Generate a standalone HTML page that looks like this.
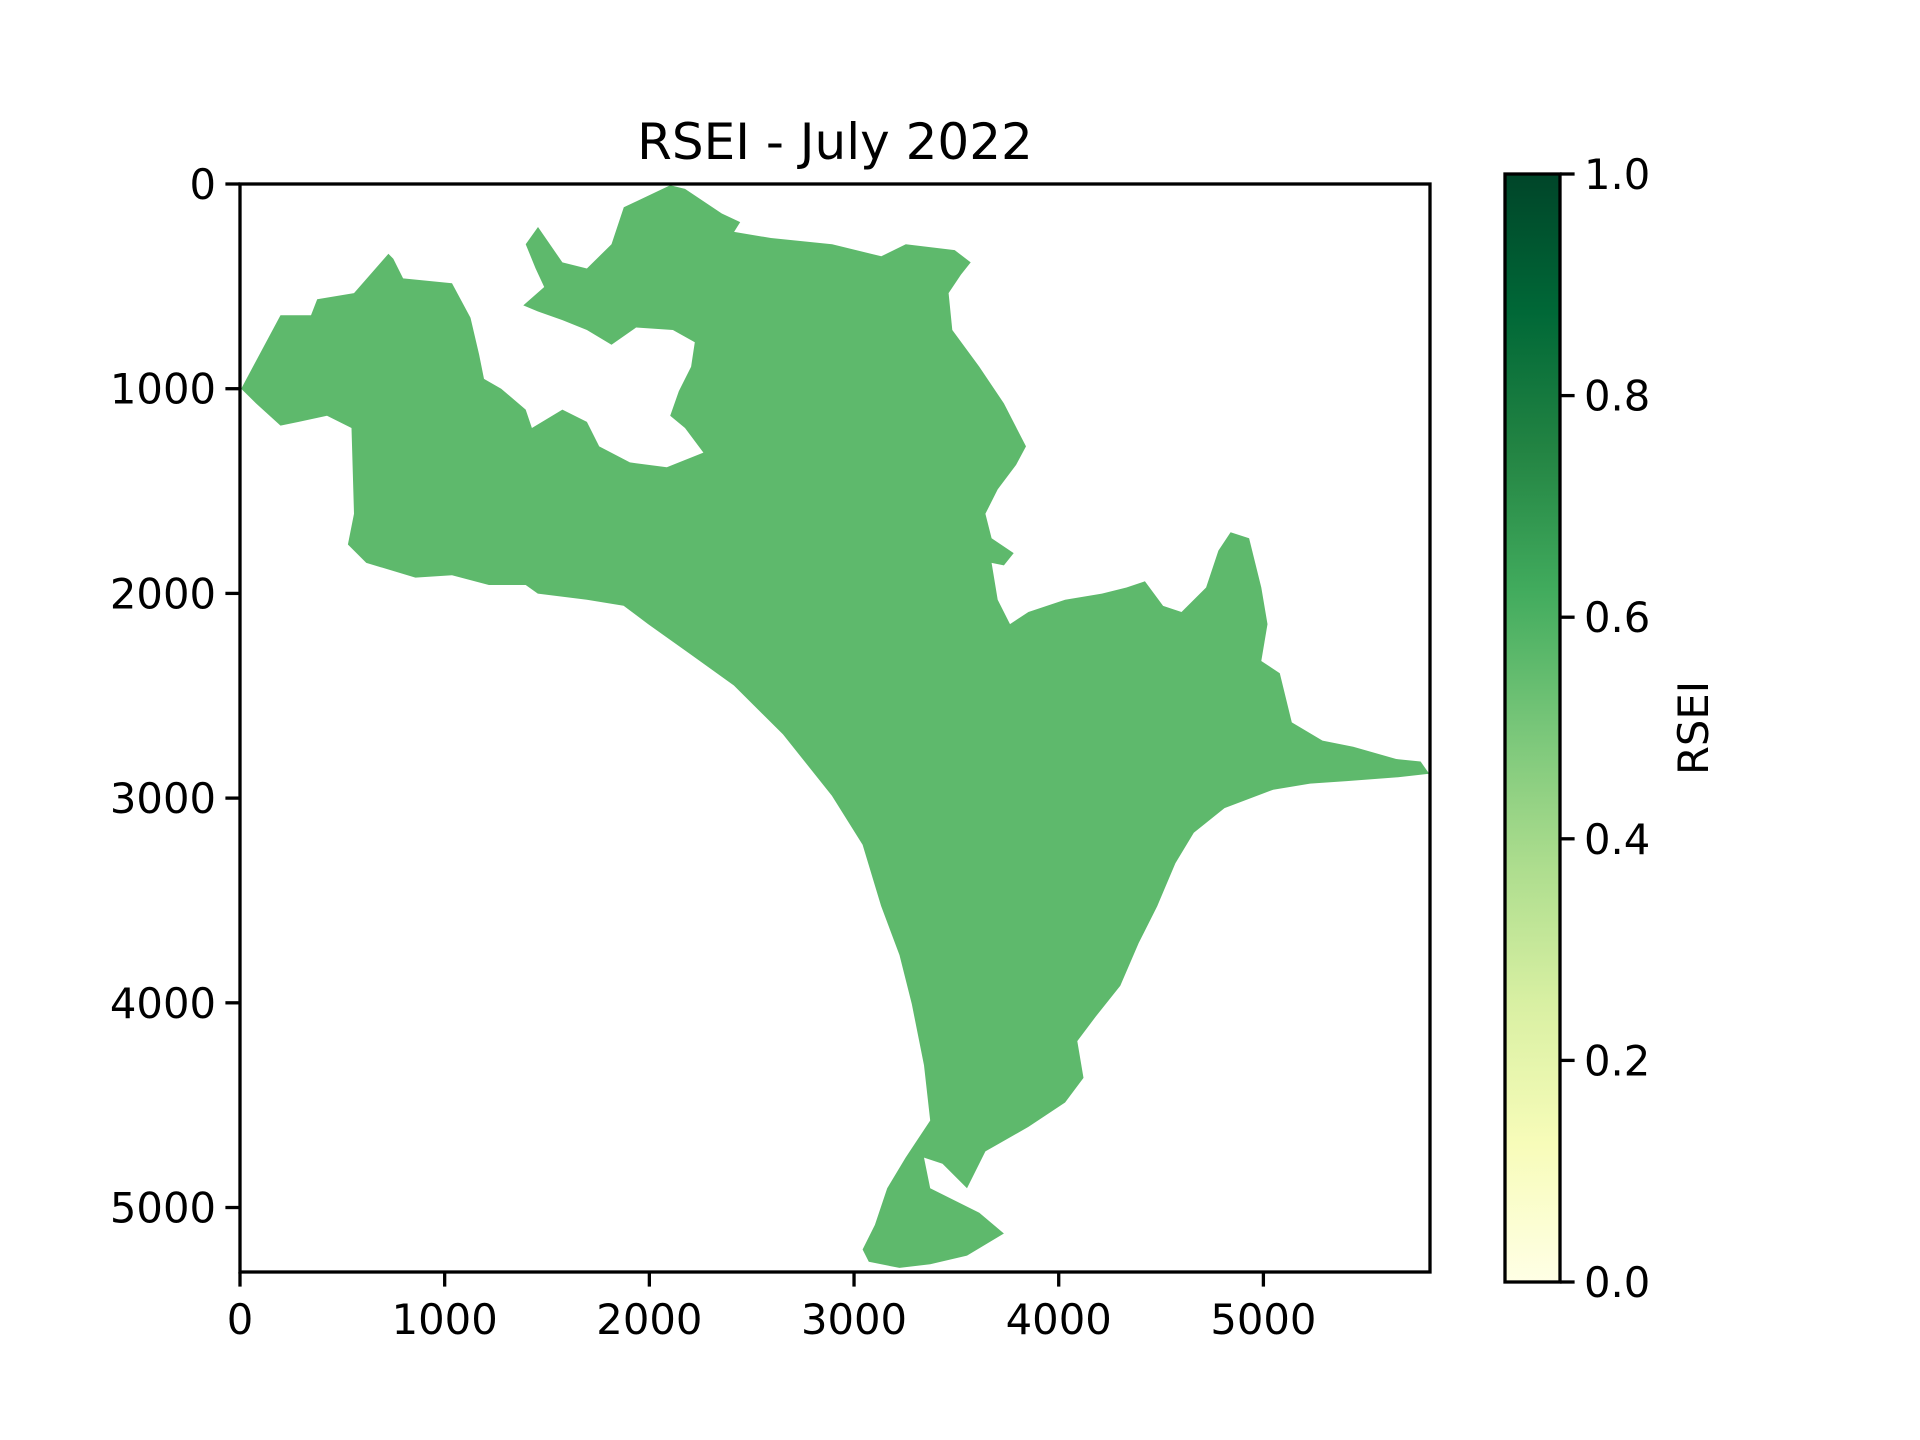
<!DOCTYPE html>
<html><head><meta charset="utf-8"><style>
html,body{margin:0;padding:0;background:#fff}
svg{display:block;font-family:"DejaVu Sans","Liberation Sans",sans-serif}
</style></head><body>
<svg id="chart" width="1920" height="1440" viewBox="0 0 1920 1440" xmlns="http://www.w3.org/2000/svg">
<defs>
<linearGradient id="ylgn" x1="0" y1="1" x2="0" y2="0">
<stop offset="0" stop-color="#ffffe5"/><stop offset="0.125" stop-color="#f7fcb9"/><stop offset="0.25" stop-color="#d9f0a3"/><stop offset="0.375" stop-color="#addd8e"/><stop offset="0.5" stop-color="#78c679"/><stop offset="0.625" stop-color="#41ab5d"/><stop offset="0.75" stop-color="#238443"/><stop offset="0.875" stop-color="#006837"/><stop offset="1" stop-color="#004529"/>
</linearGradient>
</defs>
<text x="835" y="159" font-size="50" text-anchor="middle">RSEI - July 2022</text>
<g id="map"></g>
<rect x="240" y="184" width="1190" height="1088" fill="none" stroke="#000" stroke-width="3.3"/>
<g id="xticks"></g>
<g id="yticks"></g>
<rect x="1505" y="174" width="55" height="1108" fill="url(#ylgn)" stroke="#000" stroke-width="3.3"/>
<g id="cticks"></g>
<text x="0" y="0" font-size="41.7" text-anchor="middle" transform="translate(1708,728) rotate(-90)">RSEI</text>
</svg>
<script>
const xTicks=[0,1000,2000,3000,4000,5000];
const yTicks=[0,1000,2000,3000,4000,5000];
const cTicks=[0.0,0.2,0.4,0.6,0.8,1.0];
const cLabels=["0.0","0.2","0.4","0.6","0.8","1.0"];
const mapValue=0.56;
const outlineX=[6,198,347,377,557,725,749,797,1036,1126,1168,1192,1276,1396,1426,1575,1695,1755,1905,2085,2264,2174,2102,2144,2204,2222,2115,1935,1815,1695,1575,1456,1384,1486,1444,1396,1456,1575,1695,1815,1875,2102,2174,2354,2444,2414,2594,2893,3133,3253,3492,3570,3522,3462,3480,3612,3732,3840,3792,3702,3642,3672,3780,3732,3672,3702,3762,3852,4031,4211,4331,4421,4510,4600,4720,4780,4840,4930,4960,4990,5020,4990,5080,5139,5289,5439,5649,5768,5810,5649,5407,5228,5048,4810,4660,4570,4481,4391,4301,4181,4091,4121,4031,3852,3642,3552,3432,3342,3372,3612,3732,3552,3372,3222,3072,3042,3102,3162,3252,3372,3342,3282,3222,3132,3042,2892,2653,2413,2204,1994,1874,1695,1455,1396,1216,1036,857,617,527,557,545,425,287,198,78];
const outlineY=[1000,641,641,563,533,341,365,461,485,653,833,952,1000,1102,1192,1102,1162,1282,1360,1384,1312,1192,1132,1012,893,773,713,701,785,713,665,623,593,503,413,294,210,383,413,294,114,6,24,144,186,234,264,294,353,294,323,383,443,533,713,893,1072,1282,1372,1492,1611,1731,1803,1863,1851,2031,2150,2091,2031,2001,1971,1941,2061,2091,1971,1791,1701,1731,1851,1971,2150,2330,2390,2630,2719,2749,2809,2821,2881,2899,2917,2929,2959,3049,3169,3318,3528,3708,3917,4067,4187,4367,4487,4606,4726,4906,4786,4756,4906,5026,5127,5235,5277,5295,5265,5205,5085,4906,4756,4575,4305,4006,3767,3527,3228,2988,2689,2450,2300,2150,2060,2031,2001,1959,1959,1911,1923,1851,1761,1611,1192,1132,1162,1180,1072];
const X0=240,X1=1430,Y0=184,Y1=1272,XMAX=5814,YMAX=5315;
const sx=v=>X0+v/XMAX*(X1-X0);
const sy=v=>Y0+v/YMAX*(Y1-Y0);
const cy=v=>1282-v*(1282-174);
const NS="http://www.w3.org/2000/svg";
function mk(tag,attrs,parent){const e=document.createElementNS(NS,tag);for(const k in attrs)e.setAttribute(k,attrs[k]);parent.appendChild(e);return e;}
function ylgn(t){const s=[[255,255,229],[247,252,185],[217,240,163],[173,221,142],[120,198,121],[65,171,93],[35,132,67],[0,104,55],[0,69,41]];const p=t*8,i=Math.min(7,Math.floor(p)),f=p-i;return 'rgb('+s[i].map((c,j)=>Math.round(c+(s[i+1][j]-c)*f)).join(',')+')';}
const map=document.getElementById('map');
const pts=outlineX.map((x,i)=>sx(x).toFixed(1)+','+sy(outlineY[i]).toFixed(1)).join(' ');
const poly=mk('polygon',{points:pts,fill:ylgn(mapValue)},map);


const xg=document.getElementById('xticks');
xTicks.forEach(v=>{const x=sx(v);
const l=mk('line',{x1:x,x2:x,y1:Y1,y2:Y1+14.6,stroke:'#000','stroke-width':3.3},xg);


const t=mk('text',{x:x,y:Y1+62,'font-size':41.7,'text-anchor':'middle'},xg);t.textContent=v;

});
const yg=document.getElementById('yticks');
yTicks.forEach(v=>{const y=sy(v);
const l=mk('line',{x1:X0-14.6,x2:X0,y1:y,y2:y,stroke:'#000','stroke-width':3.3},yg);


const t=mk('text',{x:X0-24,y:y+15,'font-size':41.7,'text-anchor':'end'},yg);t.textContent=v;

});
const cg=document.getElementById('cticks');
cTicks.forEach((v,i)=>{const y=cy(v);
const l=mk('line',{x1:1560,x2:1574.6,y1:y,y2:y,stroke:'#000','stroke-width':3.3},cg);


const t=mk('text',{x:1584,y:y+15,'font-size':41.7},cg);t.textContent=cLabels[i];

});
</script>
</body></html>
